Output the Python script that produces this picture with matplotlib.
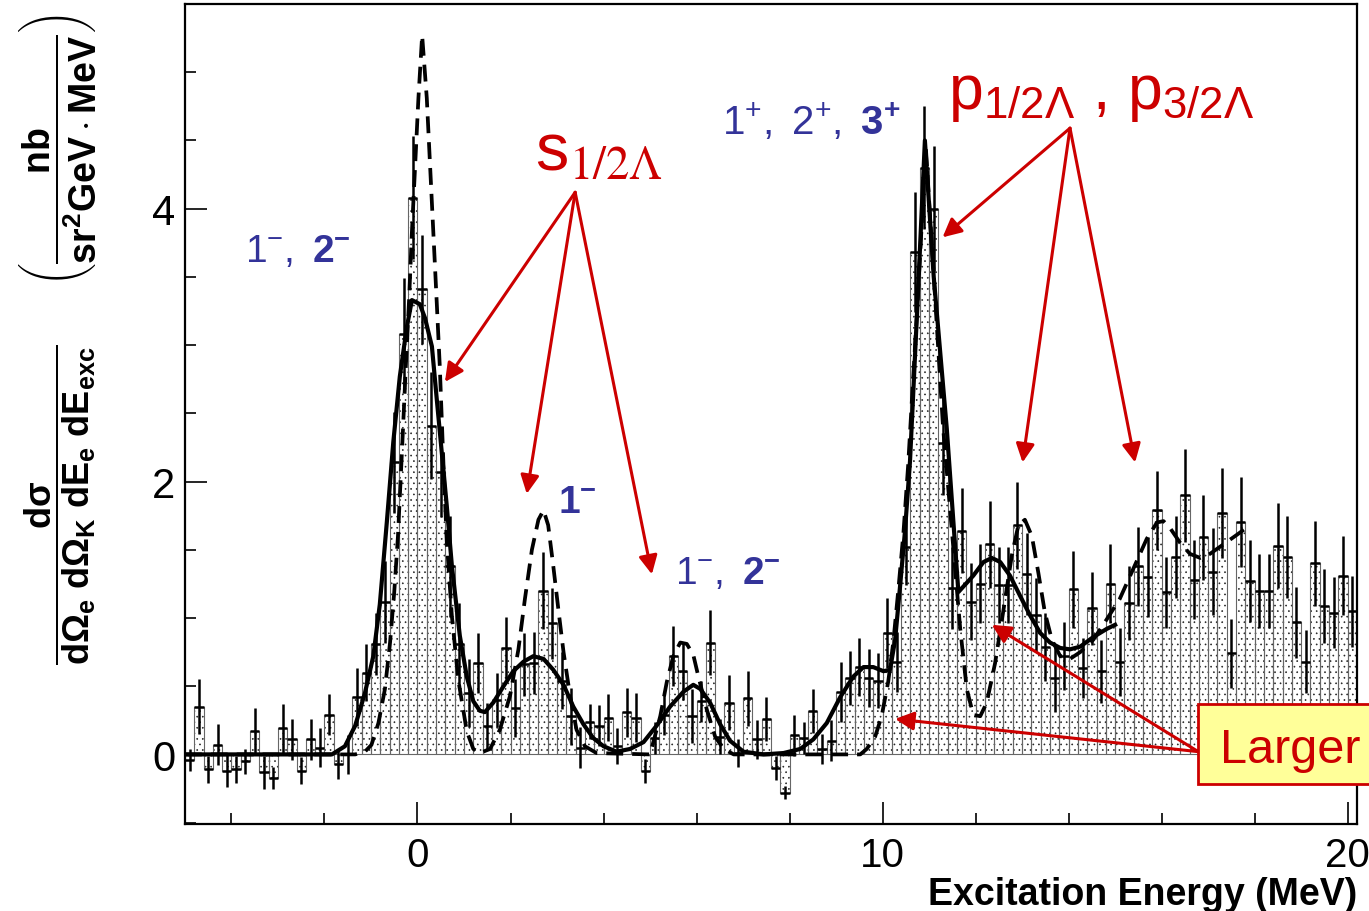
import numpy as np
import matplotlib
matplotlib.use("Agg")
import matplotlib.pyplot as plt
from matplotlib.patches import Rectangle

plt.rcParams['font.family'] = ['Liberation Sans', 'DejaVu Sans']
plt.rcParams['mathtext.fontset'] = 'custom'
plt.rcParams['mathtext.rm'] = 'Liberation Sans'
plt.rcParams['mathtext.it'] = 'Liberation Sans:italic'
plt.rcParams['mathtext.bf'] = 'Liberation Sans:bold'
plt.rcParams['hatch.linewidth'] = 0.45

# histogram: 0.2 MeV bins from -5.0 to 20.2 MeV
bin_lo = -5.0
bin_w = 0.2
counts = [
    -0.04, 0.35, -0.11, 0.07, -0.12, -0.11, -0.05, 0.17, -0.13, -0.17,
    0.19, 0.11, -0.12, 0.11, 0.05, 0.29, -0.07, 0.00, 0.42, 0.60,
    0.81, 1.12, 2.14, 3.08, 4.08, 3.41, 2.41, 2.07, 1.38, 0.81,
    0.45, 0.67, 0.21, 0.40, 0.78, 0.34, 0.66, 0.67, 1.20, 0.96,
    0.54, 0.28, 0.05, 0.24, 0.21, 0.27, 0.06, 0.31, 0.27, -0.12,
    0.12, 0.29, 0.72, 0.61, 0.28, 0.39, 0.82, 0.13, 0.38, 0.01,
    0.41, 0.11, 0.26, -0.10, -0.28, 0.14, 0.12, 0.32, 0.04, 0.10,
    0.46, 0.56, 0.64, 0.56, 0.54, 0.89, 0.68, 1.52, 3.68, 4.30,
    4.00, 2.28, 1.22, 1.64, 1.12, 1.25, 1.54, 1.24, 1.24, 1.68,
    1.32, 1.02, 0.79, 0.56, 0.72, 1.21, 0.63, 1.07, 0.61, 1.25,
    0.68, 1.11, 1.38, 1.30, 1.79, 1.19, 1.45, 1.90, 1.28, 1.59,
    1.34, 1.77, 0.74, 1.70, 1.27, 1.20, 1.20, 1.53, 1.45, 0.97,
    0.68, 1.40, 1.09, 1.04, 1.31, 1.05,
]
errors = [
    0.08, 0.20, 0.10, 0.15, 0.12, 0.10, 0.09, 0.17, 0.12, 0.08,
    0.18, 0.15, 0.10, 0.15, 0.14, 0.15, 0.11, 0.14, 0.21, 0.21,
    0.23, 0.30, 0.37, 0.41, 0.45, 0.40, 0.39, 0.33, 0.37, 0.30,
    0.25, 0.22, 0.17, 0.20, 0.23, 0.21, 0.23, 0.23, 0.28, 0.26,
    0.21, 0.21, 0.15, 0.13, 0.15, 0.17, 0.13, 0.18, 0.18, 0.09,
    0.12, 0.15, 0.22, 0.21, 0.20, 0.15, 0.24, 0.13, 0.20, 0.10,
    0.20, 0.14, 0.16, 0.09, 0.05, 0.15, 0.12, 0.16, 0.11, 0.15,
    0.22, 0.20, 0.21, 0.21, 0.20, 0.26, 0.22, 0.28, 0.44, 0.45,
    0.46, 0.38, 0.30, 0.31, 0.28, 0.29, 0.32, 0.28, 0.28, 0.32,
    0.30, 0.27, 0.25, 0.25, 0.25, 0.28, 0.22, 0.27, 0.23, 0.29,
    0.25, 0.27, 0.29, 0.29, 0.29, 0.26, 0.30, 0.34, 0.29, 0.31,
    0.32, 0.33, 0.25, 0.33, 0.30, 0.27, 0.27, 0.31, 0.30, 0.26,
    0.23, 0.31, 0.27, 0.26, 0.29, 0.26,
]

# broader theoretical curve (solid)
solid_x = [-5.0, -1.84, -1.56, -1.34, -1.13, -0.95, -0.81, -0.66, -0.52, -0.38,
           -0.23, -0.12, 0.05, 0.16, 0.31, 0.41, 0.52, 0.63, 0.74, 0.91,
           1.06, 1.20, 1.34, 1.45, 1.63, 1.85, 2.06, 2.28, 2.49, 2.71,
           2.92, 3.14, 3.35, 3.57, 3.78, 4.00, 4.28, 4.57, 4.86, 5.14,
           5.43, 5.72, 5.93, 6.08, 6.29, 6.51, 6.72, 7.01, 7.44, 7.87,
           8.23, 8.51, 8.80, 9.09, 9.37, 9.59, 9.80, 10.02, 10.16, 10.27,
           10.37, 10.48, 10.59, 10.75, 10.91, 11.10, 11.38, 11.63, 11.95, 12.17,
           12.35, 12.53, 12.74, 12.96, 13.17, 13.39, 13.60, 13.82, 14.03, 14.25,
           14.53, 14.82, 15.00]
solid_y = [0.0, 0.0, 0.06, 0.21, 0.45, 0.72, 1.10, 1.70, 2.29, 2.77,
           3.13, 3.33, 3.30, 3.20, 2.99, 2.62, 2.22, 1.82, 1.38, 0.87,
           0.57, 0.39, 0.32, 0.31, 0.38, 0.50, 0.61, 0.68, 0.72, 0.70,
           0.62, 0.51, 0.35, 0.22, 0.12, 0.06, 0.02, 0.04, 0.09, 0.21,
           0.35, 0.46, 0.51, 0.48, 0.38, 0.22, 0.10, 0.02, 0.0, 0.01,
           0.04, 0.11, 0.23, 0.42, 0.57, 0.64, 0.64, 0.61, 0.62, 0.84,
           1.21, 1.63, 2.15, 3.30, 4.50, 3.50, 2.39, 1.19, 1.31, 1.41,
           1.44, 1.41, 1.31, 1.16, 1.02, 0.89, 0.82, 0.78, 0.77, 0.79,
           0.86, 0.92, 0.95]

# narrower theoretical curve (dashed)
dash_x = [-5.0, -1.34, -1.13, -0.99, -0.84, -0.70, -0.59, -0.50, -0.42, -0.33,
          -0.25, -0.18, -0.12, -0.05, 0.02, 0.10, 0.20, 0.27, 0.34, 0.41,
          0.48, 0.56, 0.63, 0.74, 0.88, 1.06, 1.20, 1.34, 1.56, 1.77,
          1.99, 2.17, 2.31, 2.46, 2.60, 2.71, 2.81, 2.92, 3.03, 3.14,
          3.28, 3.42, 3.60, 3.85, 5.00, 5.07, 5.22, 5.36, 5.50, 5.65,
          5.79, 5.93, 6.04, 6.22, 6.40, 6.58, 6.80, 9.52, 9.66, 9.84,
          9.98, 10.12, 10.23, 10.34, 10.45, 10.55, 10.75, 10.93, 11.12, 11.30,
          11.50, 11.67, 11.81, 11.95, 12.10, 12.24, 12.42, 12.60, 12.78, 12.92,
          13.06, 13.21, 13.35, 13.49, 13.64, 13.82, 14.03, 14.25, 14.53, 14.82,
          15.10, 15.39, 15.68, 15.90, 16.04, 16.18, 16.40, 16.61, 16.83, 17.04,
          17.33, 17.62, 17.90]
dash_y = [0.0, 0.0, 0.02, 0.07, 0.23, 0.48, 0.82, 1.19, 1.60, 2.25,
          2.85, 3.34, 3.83, 4.32, 4.81, 5.27, 4.81, 4.32, 3.83, 3.34,
          2.84, 2.11, 1.56, 1.01, 0.54, 0.17, 0.04, 0.01, 0.04, 0.18,
          0.43, 0.77, 1.14, 1.50, 1.72, 1.79, 1.68, 1.38, 1.06, 0.75,
          0.43, 0.18, 0.06, 0.01, 0.0, 0.09, 0.28, 0.53, 0.72, 0.82,
          0.81, 0.73, 0.57, 0.33, 0.13, 0.04, 0.0, 0.0, 0.04, 0.13,
          0.28, 0.53, 0.82, 1.21, 1.63, 2.12, 3.30, 4.45, 3.40, 2.40,
          1.60, 0.92, 0.48, 0.29, 0.28, 0.38, 0.67, 1.06, 1.46, 1.68,
          1.72, 1.60, 1.33, 1.04, 0.84, 0.72, 0.70, 0.75, 0.84, 0.99,
          1.14, 1.36, 1.58, 1.70, 1.71, 1.66, 1.55, 1.47, 1.44, 1.47,
          1.54, 1.61, 1.68]

red = '#cc0000'
blue = '#333399'

counts = np.array(counts)
errors = np.array(errors)
centers = bin_lo + bin_w * (np.arange(len(counts)) + 0.5)

fig = plt.figure(figsize=(13.69, 9.12), dpi=100)
ax = fig.add_axes([0.1351, 0.0954, 0.8561, 0.8991])

# dotted fill of each bin, then the thin bin outlines
ax.bar(centers, counts, width=bin_w, color='none', edgecolor='#222222',
       linewidth=0, hatch='...', zorder=1)
ax.bar(centers, counts, width=bin_w, fill=False, edgecolor='#666666',
       linewidth=0.8, zorder=2)
ax.errorbar(centers, counts, xerr=bin_w / 2, yerr=errors, fmt='none',
            ecolor='black', elinewidth=1.8, capsize=0, zorder=3)

ax.plot(solid_x, solid_y, color='black', lw=3.0, zorder=4)
ax.plot(dash_x, dash_y, color='black', lw=2.7, ls=(0, (4.5, 2.4)), zorder=4)

ax.set_xlim(-5.0, 20.2)
ax.set_ylim(-0.51, 5.5)
ax.set_xticks([0, 10, 20])
ax.set_xticks(np.arange(-4, 20.1, 2), minor=True)
ax.set_yticks([0, 2, 4])
ax.set_yticks(np.arange(-0.5, 5.51, 0.5), minor=True)
ax.tick_params(which='both', direction='in', top=False, right=False, width=1.2)
ax.tick_params(which='major', length=16)
ax.tick_params(which='minor', length=8)
ax.tick_params(axis='y', labelsize=30, pad=7)
ax.tick_params(axis='x', labelsize=29, pad=9)
for sp in ax.spines.values():
    sp.set_linewidth(1.6)

fig.text(1357 / 1369, 1 - 905 / 912, 'Excitation Energy (MeV)', ha='right',
         va='baseline', fontsize=27, fontweight='bold')

# y axis title: cross section fraction and its unit
fig.text(60 / 1369, 1 - 505 / 912,
         r'$\dfrac{\mathbf{d\sigma}}{\mathbf{d\Omega_e\ d\Omega_K\ dE_e\ dE_{exc}}}$',
         rotation=90, ha='center', va='center', fontsize=26)
fig.text(57 / 1369, 1 - 150 / 912,
         r'$\left(\dfrac{\mathbf{nb}}{\mathbf{sr^2GeV\cdot MeV}}\right)$',
         rotation=90, ha='center', va='center', fontsize=27)

# spin-parity labels
ax.text(-3.71, 3.62, r'$\mathrm{1}^{-},\ \mathbf{2}^{\mathbf{-}}$', color=blue, fontsize=28)
ax.text(3.02, 1.78, r'$\mathbf{1}^{\mathbf{-}}$', color=blue, fontsize=28)
ax.text(5.54, 1.26, r'$\mathrm{1}^{-},\ \mathbf{2}^{\mathbf{-}}$', color=blue, fontsize=28)
ax.text(6.55, 4.55, r'$\mathrm{1}^{+},\ \mathrm{2}^{+},\ \mathbf{3}^{\mathbf{+}}$',
        color=blue, fontsize=29)

# single-particle orbit labels
ax.text(2.53, 4.29, r's$_{\mathrm{1/2\Lambda}}$', color=red, fontsize=48,
        math_fontfamily='stix')
ax.text(11.41, 4.74, r'p$_{1/2\Lambda}$ , p$_{3/2\Lambda}$', color=red, fontsize=45)

arrow = dict(arrowstyle='-|>', color=red, lw=2.2, mutation_scale=28,
             shrinkA=0, shrinkB=0)
s_from = (3.39, 4.12)
for tip in [(0.59, 2.73), (2.35, 1.91), (5.04, 1.32)]:
    ax.annotate('', xy=tip, xytext=s_from, arrowprops=arrow, zorder=6)
p_from = (14.03, 4.59)
for tip in [(11.29, 3.79), (13.01, 2.14), (15.43, 2.14)]:
    ax.annotate('', xy=tip, xytext=p_from, arrowprops=arrow, zorder=6)
big_from = (16.79, 0.02)
for tip in [(10.27, 0.26), (12.35, 0.95)]:
    ax.annotate('', xy=tip, xytext=big_from, arrowprops=arrow, zorder=6)

box = Rectangle((1198 / 1369, 1 - 785 / 912), 0.2, 80 / 912,
                transform=fig.transFigure, facecolor='#ffff99',
                edgecolor=red, linewidth=2, zorder=7)
fig.patches.append(box)
fig.text(1220 / 1369, 1 - 763 / 912, 'Larger', color=red, fontsize=35,
         ha='left', va='baseline', zorder=8)

fig.savefig('out.png', dpi=100)
